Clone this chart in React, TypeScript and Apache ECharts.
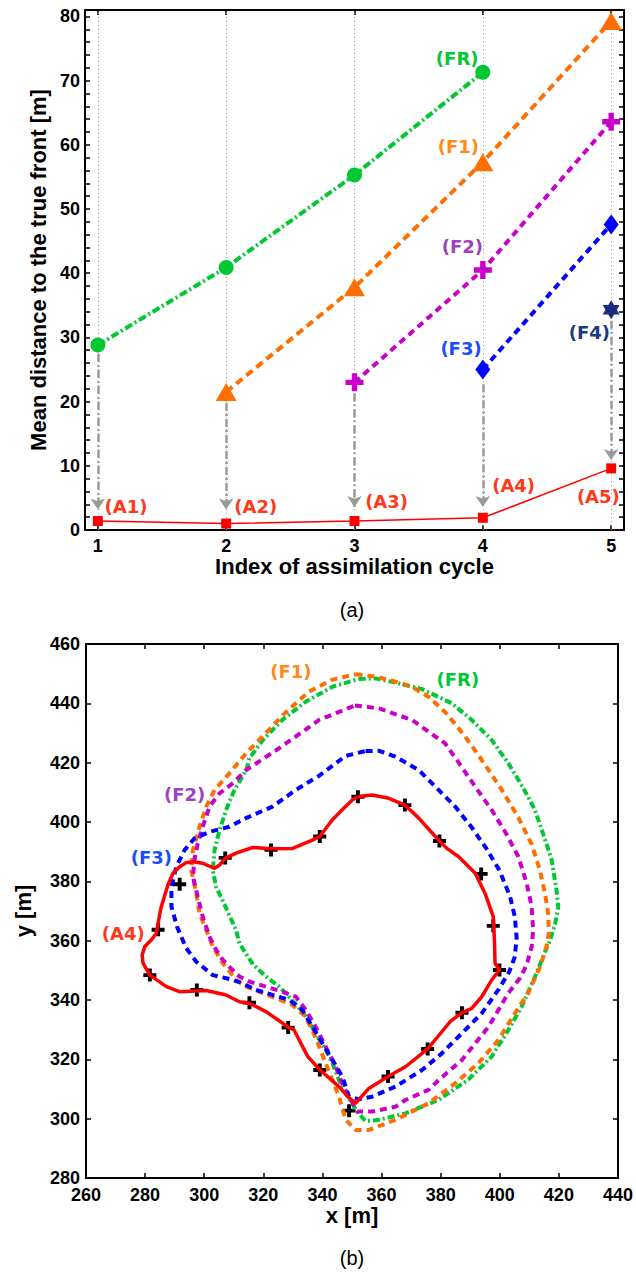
import React, { useEffect, useRef } from 'react';
import * as echarts from 'echarts';

// ---------- (a) data ----------
const cycles = [1, 2, 3, 4, 5];
const frValues = [28.8, 40.9, 55.3, 71.3]; // cycles 1-4
const f1Values = [21.5, 37.8, 57.3, 79.3]; // cycles 2-5
const f2Values = [23.0, 40.5, 63.6]; // cycles 3-5
const f3Values = [25.0, 47.6]; // cycles 4-5
const f4Values = [34.3]; // cycle 5
const aValues = [1.4, 1.0, 1.4, 1.9, 9.6];
const arrowFrom = [27.4, 19.8, 21.3, 22.7, 32.6];
const arrowTo = [3.2, 3.2, 3.6, 3.6, 10.9];
const yLabelValues = [0, 10, 20, 30, 40, 50, 60, 70, 80];
const yTickValues = [0, 2, 4, 6, 8, 10, 12, 14, 16, 18, 20, 22, 24, 26, 28, 30, 32, 34, 36, 38, 40, 42, 44, 46, 48, 50, 52, 54, 56, 58, 60, 62, 64, 66, 68, 70, 72, 74, 76, 78, 80];
const topLabelNames = ['(FR)', '(F1)', '(F2)', '(F3)', '(F4)', '(A1)', '(A2)', '(A3)', '(A4)', '(A5)'];
const topLabelX = [3.80, 3.81, 3.84, 3.83, 4.83, 1.22, 2.23, 3.25, 4.24, 4.90];
const topLabelY = [73.5, 59.8, 44.1, 28.3, 30.8, 3.6, 3.6, 4.4, 6.9, 5.2];
const topLabelColors = ['#00c832', '#ff8a1a', '#a040c0', '#1a4dff', '#1a3a80', '#ff3a1a', '#ff3a1a', '#ff3a1a', '#ff3a1a', '#ff3a1a'];

// ---------- (b) data ----------
const frontA4 = [[352,408.5],[356.8,409.1],[362.5,408],[367.9,405.7],[372.6,401.3],[378.2,395.1],[382,391.2],[386.1,388.3],[391.7,382.7],[395,376],[397.8,368.1],[398.2,360],[398.4,352.4],[399.9,350.1],[397.3,346.8],[393.9,341.1],[390.5,337.2],[387.2,335.7],[383.2,332.7],[380.4,329.3],[375.6,323.5],[368.1,317.5],[362.2,314.2],[355.7,310.2],[351.2,305.2],[348.5,307.5],[345.6,310.8],[339.2,316.4],[335,321],[332.7,325.4],[330.4,329.9],[328.5,330.8],[320.9,336.1],[315.3,338.9],[311.9,339.4],[307.4,341.7],[300.7,343.2],[291.7,342.8],[287.2,344.5],[281.6,348.4],[279.3,352.4],[279,355.2],[279.9,358],[282.1,360.2],[283.8,362.5],[285,369.2],[285.5,371.5],[287.7,378.8],[289.4,382.7],[291.7,384.9],[293.9,386.3],[296.2,386.6],[299.5,386.1],[303.5,384.4],[305.2,385.5],[307.2,387.8],[310.8,389.5],[316.4,391.4],[322.6,391],[329.9,391.1],[336.6,393.9],[339.1,395.1],[343.3,400.7],[346.7,404.1],[350.1,407.4],[352,408.5]];
const frontF3 = [[354.6,423.9],[359.1,424],[364.7,422],[372.6,417.5],[379.3,410.8],[384.9,405.2],[390.5,398.2],[395.5,391],[400,383.5],[403.5,374.8],[405.1,368.1],[405.7,361],[405.1,354.6],[403.2,349.5],[399.5,343.4],[393.9,335.5],[387.2,328.8],[380.4,322],[373.7,316.4],[364.7,310.8],[356.8,307.4],[352.3,306.5],[349,307.4],[346.7,314.2],[343.4,319.8],[340,325.4],[336.6,331],[333.2,336.6],[328.8,340],[323.1,341.7],[317.5,343.4],[313,345.6],[309.6,346.8],[302.9,348.4],[297.3,352.9],[293.9,357.5],[290.8,364.7],[288.9,371.5],[288.9,378.2],[290.6,385],[293.4,390.6],[296.7,394.5],[301.8,396.7],[308.5,398.4],[314.5,401.5],[323.1,405.2],[331,410.8],[338.9,415.6],[347.9,422.3],[354.6,423.9]];
const frontF2 = [[351,439.3],[359.1,438.3],[370.3,434.4],[381.5,426.5],[386.1,420],[391.7,411.9],[397.3,404],[401.8,396.7],[406.3,388.3],[409.1,379.3],[410.8,371.5],[411.3,363.6],[410.8,358],[409.1,351.8],[406.8,347.3],[402.9,342.3],[396.2,331],[387.2,319.8],[379.3,313],[375.9,309.7],[368.1,306.3],[364.7,304],[356.8,302.4],[351.8,302.4],[349,307.4],[346.7,311.9],[344.5,317.5],[341.1,324.3],[337.7,331],[334.4,336.6],[331,341.1],[326.5,342.8],[320.9,344.5],[315.3,346.2],[311.9,347.9],[309.6,350.1],[306.3,353.5],[304,356.9],[301.8,361.3],[299.5,368.1],[297.8,374.8],[296.2,381.6],[296.7,387.2],[297.8,392.8],[299.5,398.4],[301.8,405.2],[305.2,409.7],[309.6,413],[314.2,417.5],[325.4,424.9],[338.9,434.4],[351,439.3]];
const frontF1 = [[351.2,449.8],[358,449],[364.7,447.3],[370.3,445.6],[375.9,442.2],[381.6,437],[388.3,428.8],[393.9,420.9],[400.6,411],[406.3,401.5],[410.8,392.5],[413.5,384],[415.3,376],[416.4,369],[416.6,362.5],[415.8,358],[413.8,351.5],[409.6,342.3],[405.1,335.5],[399.5,326.5],[392.8,318.7],[384.9,311.9],[375.9,305.2],[364.7,299.6],[355.7,296.2],[351.2,296.2],[347.9,299.6],[347,302.5],[345.6,307.4],[343.4,313],[341.1,318.7],[338.9,324.3],[336.6,329.9],[333.8,334.9],[329.9,338.3],[324.3,340.6],[318.6,342.8],[314.2,344.5],[310.8,346.8],[306.3,352.4],[302.9,358],[300.7,363.6],[298.4,369.2],[297.3,376],[295.6,383.8],[296.2,390.6],[298.4,398.4],[300.7,405.2],[303.5,410.8],[308.5,416.4],[314.2,423.2],[320.9,430],[327.6,437],[335.5,444],[343.4,448],[351.2,449.8]];
const frontFR = [[352.3,448.2],[358,448.4],[364.7,447],[373.7,444.8],[383.8,440],[390.5,434.4],[397.3,427.6],[402.9,419.8],[406.3,414.2],[409.6,408.5],[411.9,404],[414.5,396.5],[417.5,387.5],[419.2,377.1],[419.8,371.5],[418.8,366],[417,360],[415,355.5],[412.2,348.5],[407.4,337.8],[402.9,329.9],[397.3,321],[389.4,313.2],[379.3,306.3],[368.1,301.8],[359.1,299.6],[354.6,299.2],[352,302],[347.9,308.5],[345.6,313],[343.4,318.7],[341.1,323.2],[337.7,328.8],[334.4,334.4],[331,338.6],[325.4,344.5],[320.9,347.9],[316.5,352],[314.2,355.5],[311.9,359.1],[310.8,363.5],[307.4,371],[304,378.2],[302.9,383.8],[303.5,390.6],[305.2,397.3],[307.4,404],[310.2,410.8],[314.2,417.5],[315.3,421.5],[319.8,427.6],[326.4,434.4],[334.4,440.6],[343.4,445.6],[352.3,448.2]];
const obsPoints = [[352,408.5],[367.9,405.7],[379.6,393.6],[393.7,382.5],[397.8,365],[399.9,350.1],[387.2,335.7],[375.6,323.5],[362.2,314.2],[349,302.7],[339.1,316.4],[328.4,330.7],[315.3,339.1],[297.5,343.4],[281.6,348.4],[284.4,363.7],[291.7,379],[307.1,387.9],[322.6,390.6],[339.1,395.1]];
const botLabelNames = ['(F1)', '(FR)', '(F2)', '(F3)', '(A4)'];
const botLabelX = [329.3, 385.8, 293.4, 282.1, 272.6];
const botLabelY = [450.7, 447.9, 409.4, 387.9, 362.3];
const botLabelColors = ['#ff8a1a', '#00c832', '#a040c0', '#1a4dff', '#ff3a1a'];

// ---------- styles ----------
const GREEN = '#00c832';
const ORANGE = '#ff6e00';
const MAGENTA = '#c800c8';
const BLUE = '#0000ff';
const NAVY = '#1a2a80';
const RED = '#ff0000';
const FONT = 'Liberation Sans, Arial, Helvetica, sans-serif';
const LBL_FONT = 'DejaVu Sans, sans-serif';
const plusPath = 'path://M7,0H13V7H20V13H13V20H7V13H0V7H7Z';
const hexPath = 'path://M10,0L12.89,5L18.66,5L15.77,10L18.66,15L12.89,15L10,20L7.11,15L1.34,15L4.23,10L1.34,5L7.11,5Z';

const axisLine = { show: true, onZero: false, lineStyle: { color: '#000', width: 2 } };
const tickIn = { show: true, inside: true, length: 5, lineStyle: { color: '#000', width: 1.5 } };
const tickFont = { fontFamily: FONT, fontWeight: 'bold' as const, fontSize: 18, color: '#000' };
const titleFont = { fontFamily: FONT, fontWeight: 'bold' as const, fontSize: 22, color: '#000' };
const labelStyle = {
  show: true, position: 'inside', formatter: (p: any) => p.name, opacity: 1,
  fontFamily: LBL_FONT, fontWeight: 'bold', fontSize: 18,
};

function App() {
  const ref = useRef<HTMLDivElement>(null);
  useEffect(() => {
    document.body.style.margin = '0';
    const chart = echarts.init(ref.current!, null, { renderer: 'svg' });
    const topX = { xAxisIndex: 0, yAxisIndex: 0 };
    const botX = { xAxisIndex: 2, yAxisIndex: 2 };
    const option: any = {
      animation: false,
      backgroundColor: '#fff',
      grid: [
        { left: 85, top: 10, width: 539, height: 520 },
        { left: 86, top: 644, width: 534, height: 534 },
      ],
      xAxis: [
        {
          gridIndex: 0, type: 'value', min: 0.9, max: 5.1, position: 'bottom',
          axisLine, axisTick: { ...tickIn, customValues: cycles },
          axisLabel: { ...tickFont, margin: 7, customValues: cycles },
          splitLine: { show: false },
          name: 'Index of assimilation cycle', nameLocation: 'middle', nameGap: 24, nameTextStyle: titleFont,
        },
        {
          gridIndex: 0, type: 'value', min: 0.9, max: 5.1, position: 'top',
          axisLine, axisTick: { ...tickIn, customValues: cycles },
          axisLabel: { show: false }, splitLine: { show: false },
        },
        {
          gridIndex: 1, type: 'value', min: 260, max: 440, interval: 20, position: 'bottom',
          axisLine, axisTick: tickIn, axisLabel: { ...tickFont, margin: 8 }, splitLine: { show: false },
          name: 'x [m]', nameLocation: 'middle', nameGap: 26, nameTextStyle: titleFont,
        },
        {
          gridIndex: 1, type: 'value', min: 260, max: 440, interval: 20, position: 'top',
          axisLine, axisTick: tickIn, axisLabel: { show: false }, splitLine: { show: false },
        },
      ],
      yAxis: [
        {
          gridIndex: 0, type: 'value', min: 0, max: 81, position: 'left',
          axisLine, axisTick: { ...tickIn, customValues: yTickValues },
          axisLabel: { ...tickFont, margin: 5, customValues: yLabelValues },
          splitLine: { show: false },
          name: 'Mean distance to the true front [m]', nameLocation: 'middle', nameGap: 30, nameTextStyle: titleFont,
        },
        {
          gridIndex: 0, type: 'value', min: 0, max: 81, position: 'right',
          axisLine, axisTick: { ...tickIn, customValues: yTickValues },
          axisLabel: { show: false }, splitLine: { show: false },
        },
        {
          gridIndex: 1, type: 'value', min: 280, max: 460, interval: 20, position: 'left',
          axisLine, axisTick: tickIn, axisLabel: { ...tickFont, margin: 6 }, splitLine: { show: false },
          name: 'y [m]', nameLocation: 'middle', nameGap: 52, nameTextStyle: titleFont,
        },
        {
          gridIndex: 1, type: 'value', min: 280, max: 460, interval: 20, position: 'right',
          axisLine, axisTick: tickIn, axisLabel: { show: false }, splitLine: { show: false },
        },
      ],
      series: [
        // ---- top panel ----
        {
          type: 'lines', coordinateSystem: 'cartesian2d', ...topX, silent: true,
          data: cycles.map((c) => ({ coords: [[c, 0], [c, 81]] })),
          lineStyle: { color: '#999', width: 1, type: [1, 3], opacity: 1 },
          symbol: ['none', 'none'],
        },
        {
          type: 'lines', coordinateSystem: 'cartesian2d', ...topX, silent: true,
          data: cycles.map((c, i) => ({ coords: [[c, arrowFrom[i]], [c, arrowTo[i]]] })),
          lineStyle: { color: '#999', width: 2.5, type: [8, 3, 2, 3], opacity: 1 },
          symbol: ['none', 'arrow'], symbolSize: 11,
        },
        {
          name: 'FR', type: 'line', ...topX,
          data: frValues.map((v, i) => [cycles[i], v]),
          symbol: 'circle', symbolSize: 15, itemStyle: { color: GREEN, opacity: 1 },
          lineStyle: { color: GREEN, width: 4, type: [8, 3, 2, 3] },
        },
        {
          name: 'F1', type: 'line', ...topX,
          data: f1Values.map((v, i) => [cycles[i + 1], v]),
          symbol: 'triangle', symbolSize: [21, 18], itemStyle: { color: ORANGE, opacity: 1 },
          lineStyle: { color: ORANGE, width: 4, type: [8, 5] },
        },
        {
          name: 'F2', type: 'line', ...topX,
          data: f2Values.map((v, i) => [cycles[i + 2], v]),
          symbol: plusPath, symbolSize: 18, itemStyle: { color: MAGENTA, opacity: 1 },
          lineStyle: { color: MAGENTA, width: 4, type: [7, 5] },
        },
        {
          name: 'F3', type: 'line', ...topX,
          data: f3Values.map((v, i) => [cycles[i + 3], v]),
          symbol: 'diamond', symbolSize: [15, 20], itemStyle: { color: BLUE, opacity: 1 },
          lineStyle: { color: BLUE, width: 4, type: [7, 5] },
        },
        {
          name: 'F4', type: 'scatter', ...topX,
          data: f4Values.map((v, i) => [cycles[i + 4], v]),
          symbol: hexPath, symbolSize: [17, 19], itemStyle: { color: NAVY, opacity: 1 },
        },
        {
          name: 'A', type: 'line', ...topX,
          data: aValues.map((v, i) => [cycles[i], v]),
          symbol: 'rect', symbolSize: 10, itemStyle: { color: RED, opacity: 1 },
          lineStyle: { color: RED, width: 1.5 },
        },
        {
          type: 'scatter', ...topX, silent: true, symbolSize: 1, itemStyle: { color: 'rgba(0,0,0,0)', opacity: 1 },
          data: topLabelNames.map((n, i) => ({
            name: n, value: [topLabelX[i], topLabelY[i]],
            label: { color: topLabelColors[i] },
          })),
          label: labelStyle,
        },
        // ---- bottom panel ----
        {
          name: 'FR', type: 'line', ...botX, data: frontFR, showSymbol: false,
          lineStyle: { color: GREEN, width: 4, type: [7, 3, 2, 3] },
        },
        {
          name: 'F1', type: 'line', ...botX, data: frontF1, showSymbol: false,
          lineStyle: { color: ORANGE, width: 4, type: [7, 5] },
        },
        {
          name: 'F2', type: 'line', ...botX, data: frontF2, showSymbol: false,
          lineStyle: { color: MAGENTA, width: 4, type: [7, 5] },
        },
        {
          name: 'F3', type: 'line', ...botX, data: frontF3, showSymbol: false,
          lineStyle: { color: BLUE, width: 4, type: [7, 5] },
        },
        {
          name: 'A4', type: 'line', ...botX, data: frontA4, showSymbol: false,
          lineStyle: { color: RED, width: 3.5 },
        },
        {
          name: 'obs', type: 'scatter', ...botX, data: obsPoints,
          symbol: plusPath, symbolSize: 13, itemStyle: { color: '#000', opacity: 1 },
        },
        {
          type: 'scatter', ...botX, silent: true, symbolSize: 1, itemStyle: { color: 'rgba(0,0,0,0)', opacity: 1 },
          data: botLabelNames.map((n, i) => ({
            name: n, value: [botLabelX[i], botLabelY[i]],
            label: { color: botLabelColors[i] },
          })),
          label: labelStyle,
        },
      ],
      graphic: [
        {
          type: 'text', x: 352, y: 610,
          style: { text: '(a)', fontFamily: FONT, fontSize: 20, fill: '#000', align: 'center', verticalAlign: 'middle', textAlign: 'center', textVerticalAlign: 'middle' },
        },
        {
          type: 'text', x: 352, y: 1258,
          style: { text: '(b)', fontFamily: FONT, fontSize: 20, fill: '#000', align: 'center', verticalAlign: 'middle', textAlign: 'center', textVerticalAlign: 'middle' },
        },
      ],
    };
    chart.setOption(option);
    return () => chart.dispose();
  }, []);
  return <div ref={ref} style={{ position: 'absolute', left: 0, top: 0, width: 636, height: 1276 }} />;
}

export default App;
